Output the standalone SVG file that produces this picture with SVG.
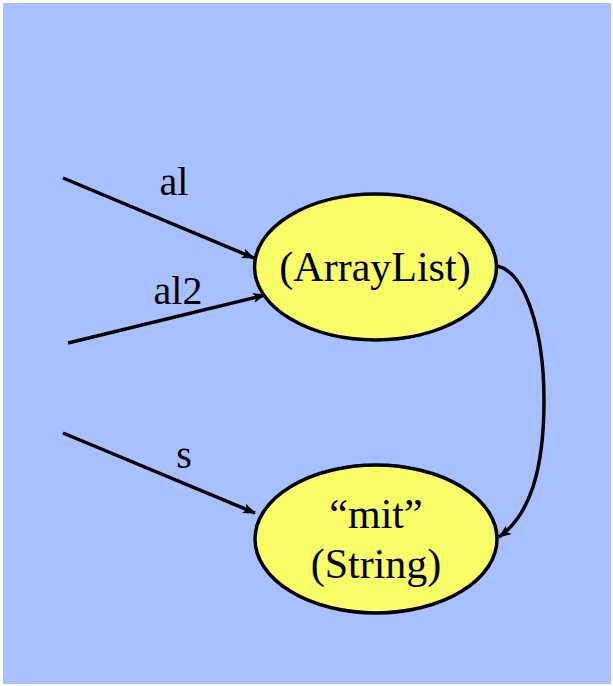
<svg xmlns="http://www.w3.org/2000/svg" width="613" height="686" viewBox="0 0 613 686">
  <style>
    .node ellipse { fill: #F8FC66; stroke: #000; stroke-width: 3.5; }
    .node text { font-family: "Liberation Serif", "Times New Roman", serif; font-size: 42px; fill: #000; text-anchor: middle; }
    .label { font-family: "Liberation Serif", "Times New Roman", serif; font-size: 40px; fill: #000; text-anchor: middle; }
    .edge { fill: none; stroke: #000; stroke-width: 3.5; marker-end: url(#arrow); }
  </style>
  <defs>
    <marker id="arrow" viewBox="0 0 13 10" refX="12" refY="5" markerWidth="13" markerHeight="10" markerUnits="userSpaceOnUse" orient="auto">
      <path d="M0,0 L13,5 L0,10 L3,5 Z" fill="#000"/>
    </marker>
  </defs>
  <rect x="0" y="0" width="613" height="686" fill="#fff"/>
  <rect x="3" y="3" width="608" height="681" fill="#A8C0FF"/>

  <g id="connectors">
    <path class="edge" d="M63,178 L254,258"/>
    <path class="edge" d="M68,343 L265,295"/>
    <path class="edge" d="M63,433 L255,513"/>
    <path class="edge" d="M497,266 C525,272 544,330 544,400 C544,470 530,515 499,537"/>
  </g>

  <g id="labels">
    <text class="label" x="174" y="195">al</text>
    <text class="label" x="178" y="304">al2</text>
    <text class="label" x="184" y="468">s</text>
  </g>

  <g id="node-arraylist" class="node">
    <ellipse cx="375.5" cy="267" rx="121" ry="73"/>
    <text x="375" y="281">(ArrayList)</text>
  </g>

  <g id="node-string" class="node">
    <ellipse cx="376" cy="539" rx="121" ry="74"/>
    <text x="376" y="528">“mit”</text>
    <text x="376" y="578">(String)</text>
  </g>
</svg>
